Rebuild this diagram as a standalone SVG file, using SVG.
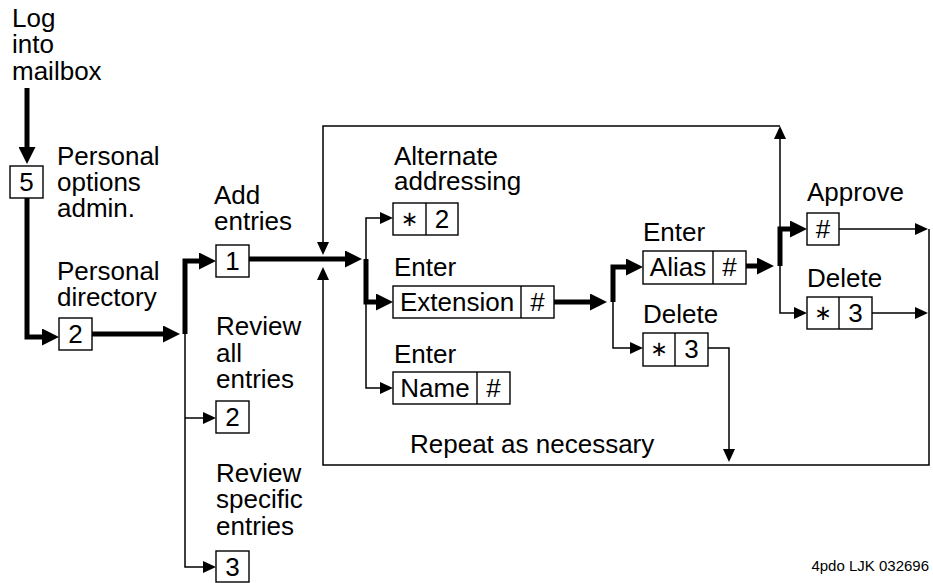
<svg xmlns="http://www.w3.org/2000/svg" width="933" height="583" viewBox="0 0 933 583">
  <style>
    text { font-family: "Liberation Sans", Arial, Helvetica, sans-serif; font-size: 26px; fill: #000; }
    .key { text-anchor: middle; }
    .ast { font-family: "DejaVu Sans", sans-serif; font-size: 21px; }
    .foot { font-size: 15px; text-anchor: end; }
    .box { fill: #fff; stroke: #000; stroke-width: 1.4; }
    .div { stroke: #000; stroke-width: 1.4; }
    .thick { fill: none; stroke: #000; stroke-width: 5; stroke-linejoin: miter; stroke-linecap: butt; marker-end: url(#ah-thick); }
    .thin { fill: none; stroke: #000; stroke-width: 1.5; stroke-linejoin: miter; marker-end: url(#ah-thin); }
  </style>
  <defs>
    <marker id="ah-thick" viewBox="0 0 17 17" refX="7" refY="8.5" markerWidth="17" markerHeight="17" orient="auto" markerUnits="userSpaceOnUse">
      <path d="M0,0 L17,8.5 L0,17 z" fill="#000"/>
    </marker>
    <marker id="ah-thin" viewBox="0 0 13 12" refX="10" refY="6" markerWidth="13" markerHeight="12" orient="auto" markerUnits="userSpaceOnUse">
      <path d="M0,0 L13,6 L0,12 z" fill="#000"/>
    </marker>
  </defs>
  <rect width="933" height="583" fill="#fff"/>

  <!-- connectors -->
  <g id="connectors">
    <!-- main (thick) path -->
    <path class="thick" d="M27,88 V154"/>
    <path class="thick" d="M27,198 V337 H49"/>
    <path class="thick" d="M92,334 H170"/>
    <path class="thick" d="M185,334 V261 H206"/>
    <path class="thick" d="M249,259 H352"/>
    <path class="thick" d="M366,259 V302 H383"/>
    <path class="thick" d="M554,302 H597"/>
    <path class="thick" d="M613,302 V267 H633"/>
    <path class="thick" d="M746,266 H764"/>
    <path class="thick" d="M780,266 V229 H797"/>
    <!-- branches (thin) -->
    <path class="thin" d="M185,334 V567 H213"/>
    <path class="thin" d="M185,418 H213"/>
    <path class="thin" d="M366,302 V218 H390"/>
    <path class="thin" d="M366,302 V388 H390"/>
    <path class="thin" d="M613,302 V348 H640"/>
    <path class="thin" d="M780,266 V313 H804"/>
    <!-- repeat loop -->
    <path class="thin" d="M780,229 V129"/>
    <path class="thin" d="M780,126 H323 V252"/>
    <path class="thin" d="M929,229 V465 H323 V270"/>
    <path class="thin" d="M839,229 H925"/>
    <path class="thin" d="M872,313 H925"/>
    <path class="thin" d="M708,348 H729 V459"/>
  </g>

  <g id="login">
    <text x="12" y="27">Log</text>
    <text x="12" y="53">into</text>
    <text x="12" y="80">mailbox</text>
  </g>

  <g id="personal-options">
    <rect class="box" x="10" y="166" width="33" height="32"/>
    <text class="key" x="26.5" y="191">5</text>
    <text x="57" y="165">Personal</text>
    <text x="57" y="191">options</text>
    <text x="57" y="217">admin.</text>
  </g>

  <g id="personal-directory">
    <rect class="box" x="59" y="318" width="33" height="32"/>
    <text class="key" x="75.5" y="343">2</text>
    <text x="57" y="280">Personal</text>
    <text x="57" y="306">directory</text>
  </g>

  <g id="add-entries">
    <rect class="box" x="216" y="245" width="33" height="32"/>
    <text class="key" x="232.5" y="270">1</text>
    <text x="214" y="204">Add</text>
    <text x="214" y="230">entries</text>
  </g>

  <g id="review-all">
    <rect class="box" x="216" y="401" width="33" height="32"/>
    <text class="key" x="232.5" y="426">2</text>
    <text x="216" y="335">Review</text>
    <text x="216" y="362">all</text>
    <text x="216" y="388">entries</text>
  </g>

  <g id="review-specific">
    <rect class="box" x="216" y="551" width="33" height="31"/>
    <text class="key" x="232.5" y="576">3</text>
    <text x="216" y="482">Review</text>
    <text x="216" y="508">specific</text>
    <text x="216" y="535">entries</text>
  </g>

  <g id="alternate-addressing">
    <rect class="box" x="393" y="203" width="65" height="32"/>
    <line class="div" x1="426" y1="203" x2="426" y2="235"/>
    <text class="key ast" x="409.5" y="226">∗</text>
    <text class="key" x="442" y="228">2</text>
    <text x="394" y="165">Alternate</text>
    <text x="394" y="190">addressing</text>
  </g>

  <g id="enter-extension">
    <rect class="box" x="393" y="286" width="161" height="32"/>
    <line class="div" x1="521" y1="286" x2="521" y2="318"/>
    <text class="key" x="457" y="311">Extension</text>
    <text class="key" x="537.5" y="311">#</text>
    <text x="394" y="276">Enter</text>
  </g>

  <g id="enter-name">
    <rect class="box" x="393" y="372" width="117" height="32"/>
    <line class="div" x1="477" y1="372" x2="477" y2="404"/>
    <text class="key" x="435" y="397">Name</text>
    <text class="key" x="493.5" y="397">#</text>
    <text x="394" y="363">Enter</text>
  </g>

  <g id="enter-alias">
    <rect class="box" x="643" y="251" width="103" height="33"/>
    <line class="div" x1="713" y1="251" x2="713" y2="284"/>
    <text class="key" x="678" y="276">Alias</text>
    <text class="key" x="729.5" y="276">#</text>
    <text x="643" y="241">Enter</text>
  </g>

  <g id="delete-alias">
    <rect class="box" x="643" y="333" width="65" height="33"/>
    <line class="div" x1="675" y1="333" x2="675" y2="366"/>
    <text class="key ast" x="659" y="356">∗</text>
    <text class="key" x="691.5" y="358">3</text>
    <text x="643" y="323">Delete</text>
  </g>

  <g id="approve">
    <rect class="box" x="807" y="213" width="32" height="32"/>
    <text class="key" x="823" y="238">#</text>
    <text x="807" y="201">Approve</text>
  </g>

  <g id="delete-entry">
    <rect class="box" x="807" y="297" width="65" height="32"/>
    <line class="div" x1="839" y1="297" x2="839" y2="329"/>
    <text class="key ast" x="823" y="320">∗</text>
    <text class="key" x="855.5" y="322">3</text>
    <text x="807" y="287">Delete</text>
  </g>

  <g id="repeat-label">
    <text x="410" y="453">Repeat as necessary</text>
  </g>

  <text class="foot" x="929" y="571">4pdo LJK 032696</text>
</svg>
